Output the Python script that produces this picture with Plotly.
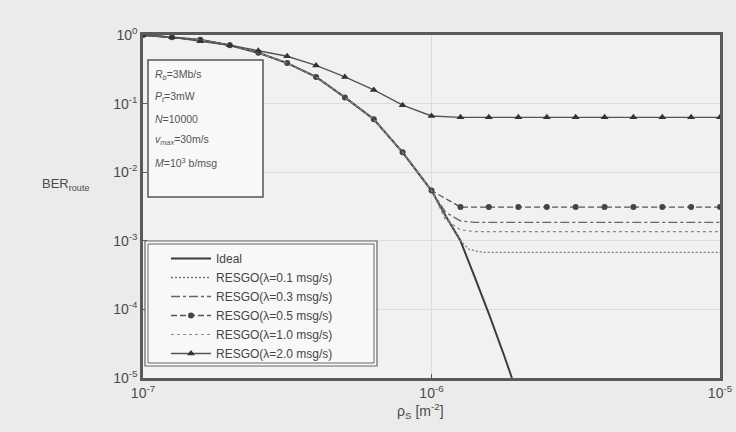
import plotly.graph_objects as go

# ---------------- data ----------------
rho_grid = [1.0e-7, 1.26e-7, 1.58e-7, 2.0e-7, 2.51e-7, 3.16e-7, 3.98e-7, 5.01e-7, 6.31e-7, 7.94e-7,
            1.0e-6, 1.26e-6, 1.58e-6, 2.0e-6, 2.51e-6, 3.16e-6, 3.98e-6, 5.01e-6, 6.31e-6, 7.94e-6, 1.0e-5]

ideal_rho = [1.0e-7, 1.26e-7, 1.58e-7, 2.0e-7, 2.51e-7, 3.16e-7, 3.98e-7, 5.01e-7, 6.31e-7, 7.94e-7,
             1.0e-6, 1.12e-6, 1.26e-6, 1.41e-6, 1.58e-6, 1.78e-6, 1.9e-6]
ideal_ber = [1.0, 0.93, 0.85, 0.71, 0.55, 0.39, 0.245, 0.123, 0.059, 0.0195,
             0.0054, 0.0023, 1.0e-3, 3.0e-4, 8.7e-5, 2.2e-5, 1.0e-5]

l01_rho = [1.0e-7, 1.26e-7, 1.58e-7, 2.0e-7, 2.51e-7, 3.16e-7, 3.98e-7, 5.01e-7, 6.31e-7, 7.94e-7,
           1.0e-6, 1.12e-6, 1.26e-6, 1.35e-6, 1.5e-6, 1.0e-5]
l01_ber = [1.0, 0.93, 0.85, 0.71, 0.55, 0.39, 0.245, 0.123, 0.059, 0.0195,
           0.0054, 0.0023, 1.0e-3, 7.5e-4, 6.8e-4, 6.8e-4]

l03_rho = [1.0e-7, 1.26e-7, 1.58e-7, 2.0e-7, 2.51e-7, 3.16e-7, 3.98e-7, 5.01e-7, 6.31e-7, 7.94e-7,
           1.0e-6, 1.12e-6, 1.26e-6, 1.41e-6, 1.0e-5]
l03_ber = [1.0, 0.93, 0.85, 0.71, 0.55, 0.39, 0.245, 0.123, 0.059, 0.0195,
           0.0054, 2.6e-3, 1.95e-3, 1.86e-3, 1.86e-3]

l05_ber = [1.0, 0.93, 0.85, 0.71, 0.55, 0.39, 0.245, 0.123, 0.059, 0.0195,
           0.0054, 3.1e-3, 3.1e-3, 3.1e-3, 3.1e-3, 3.1e-3, 3.1e-3, 3.1e-3, 3.1e-3, 3.1e-3, 3.1e-3]

l10_rho = [1.0e-7, 1.26e-7, 1.58e-7, 2.0e-7, 2.51e-7, 3.16e-7, 3.98e-7, 5.01e-7, 6.31e-7, 7.94e-7,
           1.0e-6, 1.12e-6, 1.26e-6, 1.41e-6, 1.0e-5]
l10_ber = [1.0, 0.93, 0.85, 0.71, 0.55, 0.39, 0.245, 0.123, 0.059, 0.0195,
           0.0054, 2.0e-3, 1.45e-3, 1.36e-3, 1.36e-3]

l20_ber = [1.0, 0.93, 0.81, 0.71, 0.59, 0.49, 0.36, 0.245, 0.158, 0.095,
           0.066, 0.063, 0.063, 0.063, 0.063, 0.063, 0.063, 0.063, 0.063, 0.063, 0.063]

names = ["Ideal", "RESGO(λ=0.1 msg/s)", "RESGO(λ=0.3 msg/s)", "RESGO(λ=0.5 msg/s)",
         "RESGO(λ=1.0 msg/s)", "RESGO(λ=2.0 msg/s)"]

params = ["<i>R<sub>b</sub></i>=3Mb/s", "<i>P<sub>t</sub></i>=3mW", "<i>N</i>=10000",
          "<i>v<sub>max</sub></i>=30m/s", "<i>M</i>=10<sup>3</sup> b/msg"]

x_tickvals = [1e-7, 1e-6, 1e-5]
x_ticktext = ["10<sup>-7</sup>", "10<sup>-6</sup>", "10<sup>-5</sup>"]
y_tickvals = [1e0, 1e-1, 1e-2, 1e-3, 1e-4, 1e-5]
y_ticktext = ["10<sup>0</sup>", "10<sup>-1</sup>", "10<sup>-2</sup>", "10<sup>-3</sup>",
              "10<sup>-4</sup>", "10<sup>-5</sup>"]

# ---------------- figure ----------------
W, H = 736, 432
L, R, T, B = 143, 16, 35, 54
PW, PH = W - L - R, H - T - B

def px(x):
    return (x - L) / PW

def py(y):
    return (H - B - y) / PH

ink = "#4a4a4a"
fig = go.Figure()
fig.add_trace(go.Scatter(x=ideal_rho, y=ideal_ber, name=names[0], mode="lines",
                         line=dict(color="#3c3c3c", width=2)))
fig.add_trace(go.Scatter(x=l01_rho, y=l01_ber, name=names[1], mode="lines",
                         line=dict(color="#777", width=1.3, dash="2px,2px")))
fig.add_trace(go.Scatter(x=l03_rho, y=l03_ber, name=names[2], mode="lines",
                         line=dict(color="#666", width=1.3, dash="dashdot")))
fig.add_trace(go.Scatter(x=rho_grid, y=l05_ber, name=names[3], mode="lines+markers",
                         line=dict(color="#555", width=1.3, dash="6px,3px"),
                         marker=dict(symbol="circle", size=6, color="#444")))
fig.add_trace(go.Scatter(x=l10_rho, y=l10_ber, name=names[4], mode="lines",
                         line=dict(color="#888", width=1.2, dash="dot")))
fig.add_trace(go.Scatter(x=rho_grid, y=l20_ber, name=names[5], mode="lines+markers",
                         line=dict(color="#555", width=1.4),
                         marker=dict(symbol="triangle-up", size=7, color="#333")))

shapes = [
    # parameter box
    dict(type="rect", xref="paper", yref="paper", x0=px(148), x1=px(263), y0=py(197), y1=py(60),
         fillcolor="#f8f8f8", line=dict(color="#555", width=1.5), layer="above"),
    # legend box (double border)
    dict(type="rect", xref="paper", yref="paper", x0=px(145), x1=px(377), y0=py(366), y1=py(241),
         fillcolor="#f8f8f8", line=dict(color="#666", width=1.2), layer="above"),
    dict(type="rect", xref="paper", yref="paper", x0=px(148), x1=px(374), y0=py(363), y1=py(244),
         fillcolor="rgba(0,0,0,0)", line=dict(color="#666", width=1.0), layer="above"),
]

annotations = []
for i, t in enumerate(params):
    annotations.append(dict(text=t, xref="paper", yref="paper", x=px(153), y=py(75 + i * 21.8),
                            xanchor="left", yanchor="middle", showarrow=False,
                            font=dict(size=10.5, color="#555", family="Liberation Sans")))
annotations.append(dict(text="BER<sub>route</sub>", xref="paper", yref="paper", x=px(40), y=py(184),
                        xanchor="left", yanchor="middle", showarrow=False,
                        font=dict(size=13, color=ink, family="Liberation Sans")))
annotations.append(dict(text="ρ<sub>S</sub> [m<sup>-2</sup>]", xref="paper", yref="paper",
                        x=px(420), y=py(411), xanchor="center", yanchor="middle", showarrow=False,
                        font=dict(size=14, color=ink, family="Liberation Sans")))

fig.update_layout(
    width=W, height=H,
    margin=dict(l=L, r=R, t=T, b=B, autoexpand=False),
    paper_bgcolor="#ebebeb",
    plot_bgcolor="#f1f1f1",
    font=dict(family="Liberation Sans", color=ink),
    showlegend=True,
    legend=dict(x=px(166), y=py(244), xanchor="left", yanchor="top",
                bgcolor="rgba(0,0,0,0)", borderwidth=0,
                font=dict(size=12, color="#444", family="Liberation Sans"),
                tracegroupgap=0, itemwidth=40),
    shapes=shapes,
    annotations=annotations,
)
fig.update_xaxes(type="log", range=[-7, -5], tickvals=x_tickvals, ticktext=x_ticktext,
                 automargin=False,
                 showline=True, linecolor="#5a5a5a", linewidth=2.5, mirror=True,
                 showgrid=True, gridcolor="#dcdcdc", gridwidth=1, zeroline=False,
                 ticks="inside", ticklen=4, tickcolor="#5a5a5a",
                 tickfont=dict(size=14, color=ink, family="Liberation Sans"))
fig.update_yaxes(type="log", range=[-5, 0], tickvals=y_tickvals, ticktext=y_ticktext,
                 automargin=False,
                 showline=True, linecolor="#5a5a5a", linewidth=2.5, mirror=True,
                 showgrid=True, gridcolor="#dcdcdc", gridwidth=1, zeroline=False,
                 ticks="inside", ticklen=4, tickcolor="#5a5a5a",
                 tickfont=dict(size=14, color=ink, family="Liberation Sans"))

fig.write_html("out.html")
